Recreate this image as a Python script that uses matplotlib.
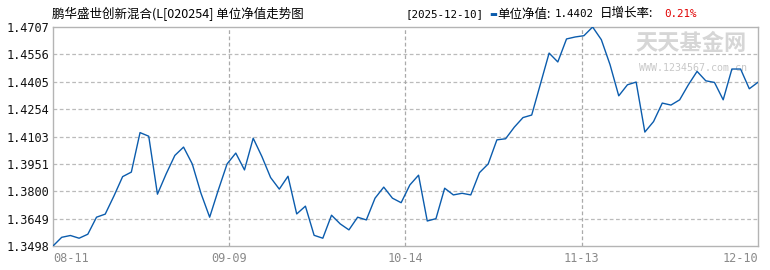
import matplotlib
matplotlib.use('Agg')
import matplotlib.pyplot as plt
import numpy as np

# 数据：单位净值（08-11 至 12-10 交易日）
nav = [1.3498, 1.3546, 1.3556, 1.3541, 1.3563, 1.3657, 1.3674, 1.3774, 1.3881, 1.3906,
       1.4124, 1.4104, 1.3784, 1.3896, 1.3998, 1.4044, 1.3951, 1.3789, 1.3657, 1.3808,
       1.3951, 1.4011, 1.3918, 1.4093, 1.3992, 1.3876, 1.3812, 1.3883, 1.3675, 1.3718,
       1.3557, 1.3541, 1.3668, 1.3620, 1.3587, 1.3657, 1.3642, 1.3762, 1.3823, 1.3762,
       1.3737, 1.3835, 1.3889, 1.3636, 1.3649, 1.3817, 1.3780, 1.3789, 1.3780, 1.3903,
       1.3951, 1.4084, 1.4090, 1.4154, 1.4207, 1.4221, 1.4392, 1.4563, 1.4514, 1.4641,
       1.4652, 1.4659, 1.4707, 1.4637, 1.4499, 1.4327, 1.4388, 1.4403, 1.4127, 1.4185,
       1.4287, 1.4276, 1.4305, 1.4388, 1.4462, 1.4410, 1.4401, 1.4305, 1.4475, 1.4475,
       1.4366, 1.4402]
x_labels = ['08-11', '09-09', '10-14', '11-13', '12-10']
y_labels = ['1.3498', '1.3649', '1.3800', '1.3951', '1.4103',
            '1.4254', '1.4405', '1.4556', '1.4707']
title = '鹏华盛世创新混合(L[020254] 单位净值走势图'
last_date = '[2025-12-10]'
last_nav = '1.4402'
last_rate = '0.21%'

W, H = 770, 270
fig = plt.figure(figsize=(W / 100, H / 100), dpi=100)
ax = fig.add_axes([53 / W, 1 - 246 / H, 705 / W, 219 / H])

idx = np.arange(len(nav))
ymin, ymax = float(y_labels[0]), float(y_labels[-1])
ax.set_xlim(0, len(nav) - 1)
ax.set_ylim(ymin, ymax)

# 网格
yt = np.linspace(ymin, ymax, len(y_labels))
xt = np.linspace(0, len(nav) - 1, len(x_labels))
for y in yt[1:-1]:
    ax.axhline(y, color='#bbbbbb', lw=0.9, ls=(0, (3, 2)), zorder=1)
for x in xt[1:-1]:
    ax.axvline(x, color='#aaaaaa', lw=0.9, ls=(0, (3, 2)), zorder=1)

ax.plot(idx, nav, color='#0b5cad', lw=1.0, zorder=3)

for s in ax.spines.values():
    s.set_color('#b4b4b4')
    s.set_linewidth(1.0)

ax.set_yticks(yt)
ax.set_yticklabels(y_labels, family='DejaVu Sans Mono', fontsize=8.6, color='#111111')
ax.set_xticks(xt)
xl = ax.set_xticklabels(x_labels, family='DejaVu Sans Mono', fontsize=8.6, color='#8a8a8a')
xl[0].set_horizontalalignment('left')
xl[-1].set_horizontalalignment('right')
ax.tick_params(length=0, pad=3)
ax.tick_params(axis='x', pad=4)

# 水印
ax.text(0.984, 0.975, '天天基金网', transform=ax.transAxes, ha='right', va='top',
        fontsize=16, fontweight='bold', color='#d6d6d6', family='Noto Sans CJK SC', zorder=2)
ax.text(0.984, 0.835, 'WWW.1234567.com.cn', transform=ax.transAxes, ha='right', va='top',
        fontsize=7.2, color='#c8c8c8', family='DejaVu Sans Mono', zorder=2)

# 标题与说明
fam = ['Noto Sans CJK SC', 'DejaVu Sans']
ty = 1 - 14 / H
fig.text(52 / W, ty, title, fontsize=9, family=fam, va='center', ha='left')
fig.text(405 / W, ty, last_date, fontsize=7.8, family='DejaVu Sans Mono', va='center', ha='left')
fig.text(489 / W, ty, '▬', fontsize=6, family='DejaVu Sans', va='center', ha='left', color='#0b5cad')
fig.text(497 / W, ty, '单位净值:', fontsize=9, family=fam, va='center', ha='left')
fig.text(555 / W, ty, last_nav, fontsize=7.8, family='DejaVu Sans Mono', va='center', ha='left')
fig.text(600 / W, ty, '日增长率:', fontsize=9, family=fam, va='center', ha='left')
fig.text(664 / W, ty, last_rate, fontsize=7.8, family='DejaVu Sans Mono', va='center', ha='left',
         color='#e00000')

plt.savefig('out.png', dpi=100)
